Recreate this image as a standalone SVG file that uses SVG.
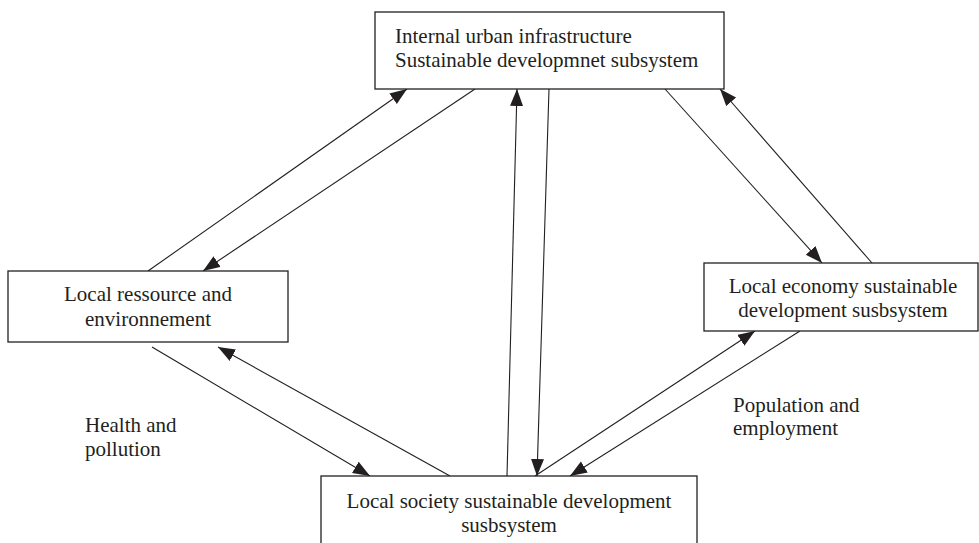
<svg xmlns="http://www.w3.org/2000/svg" width="979" height="543" viewBox="0 0 979 543">
  <style>
    .box { fill: #ffffff; stroke: #231f20; stroke-width: 1.3; }
    .lbl { font-family: "Liberation Serif", "Times New Roman", serif; font-size: 21px; fill: #231f20; }
    .mid { text-anchor: middle; }
    .link { stroke: #231f20; stroke-width: 1.1; fill: none; marker-end: url(#head); }
  </style>
  <defs>
    <marker id="head" markerUnits="userSpaceOnUse" markerWidth="18" markerHeight="14" refX="17" refY="6.5" orient="auto">
      <path d="M0,0 L17,6.5 L0,13 Z" fill="#231f20"/>
    </marker>
  </defs>
  <rect width="979" height="543" fill="#ffffff"/>

  <g id="connectors">
    <!-- resources <-> infrastructure -->
    <line class="link" x1="148" y1="271" x2="407" y2="89"/>
    <line class="link" x1="475" y1="89" x2="203" y2="271"/>
    <!-- infrastructure <-> economy -->
    <line class="link" x1="665" y1="89" x2="822" y2="263"/>
    <line class="link" x1="872" y1="263" x2="720" y2="89"/>
    <!-- society <-> infrastructure -->
    <line class="link" x1="507" y1="476" x2="517" y2="89"/>
    <line class="link" x1="549" y1="89" x2="537" y2="476"/>
    <!-- society <-> economy -->
    <line class="link" x1="535" y1="476" x2="755" y2="331"/>
    <line class="link" x1="800" y1="331" x2="570" y2="476"/>
    <!-- resources <-> society -->
    <line class="link" x1="152" y1="347" x2="370" y2="476"/>
    <line class="link" x1="450" y1="476" x2="218" y2="347"/>
  </g>

  <g id="infrastructure">
    <rect class="box" x="375" y="12" width="349" height="77"/>
    <text class="lbl" x="395" y="43">Internal urban infrastructure</text>
    <text class="lbl" x="395" y="67">Sustainable developmnet subsystem</text>
  </g>

  <g id="resources">
    <rect class="box" x="8" y="271" width="280" height="71"/>
    <text class="lbl mid" x="148" y="301">Local ressource and</text>
    <text class="lbl mid" x="148" y="326">environnement</text>
  </g>

  <g id="economy">
    <rect class="box" x="704" y="263" width="274" height="68"/>
    <text class="lbl mid" x="843" y="293">Local economy sustainable</text>
    <text class="lbl mid" x="843" y="317">development susbsystem</text>
  </g>

  <g id="society">
    <rect class="box" x="321" y="476" width="376" height="90"/>
    <text class="lbl mid" x="509" y="508">Local society sustainable development</text>
    <text class="lbl mid" x="509" y="532">susbsystem</text>
  </g>

  <g id="edge-labels">
    <text class="lbl" x="85" y="432">Health and</text>
    <text class="lbl" x="85" y="456">pollution</text>
    <text class="lbl" x="733" y="412">Population and</text>
    <text class="lbl" x="733" y="435">employment</text>
  </g>
</svg>
